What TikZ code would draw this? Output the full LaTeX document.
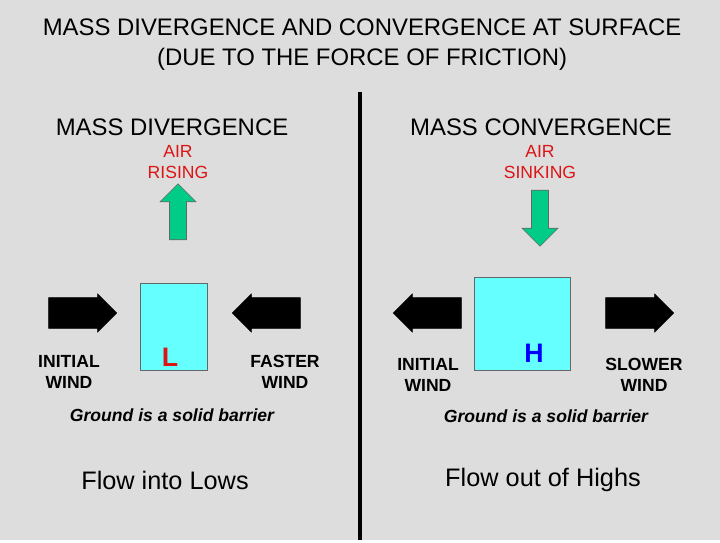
\documentclass[tikz,border=0pt]{standalone}
\usepackage{fontspec}
\setmainfont{Liberation Sans}
\usetikzlibrary{shapes.arrows,positioning}
\definecolor{bggray}{RGB}{221,221,221}
\definecolor{boxcyan}{RGB}{102,255,255}
\definecolor{airgreen}{RGB}{0,204,136}
\definecolor{lowred}{RGB}{220,20,20}
\tikzset{
  heading/.style={font=\fontsize{17}{21.5}\selectfont},
  big/.style={font=\fontsize{18}{21}\selectfont},
  small/.style={font=\fontsize{12.5}{15}\selectfont, align=center},
  label/.style={font=\fontsize{12.5}{15}\selectfont\bfseries, align=center},
  wind/.style={single arrow, draw=black, fill=black, minimum height=1.7cm, minimum width=0.95cm, single arrow head extend=0.05cm, inner sep=0.2cm},
  air/.style={single arrow, draw=black!60, fill=airgreen, minimum height=1.4cm, minimum width=0.9cm, single arrow head extend=0.12cm, inner sep=0.1cm},
  cell/.style={draw=black!60, fill=boxcyan}
}
\begin{document}
\begin{tikzpicture}[x=0.025cm,y=-0.025cm]
  \fill[bggray] (0,0) rectangle (720,540);
  \node[heading, align=center] (title) at (362,45) {MASS DIVERGENCE AND CONVERGENCE AT SURFACE\\(DUE TO THE FORCE OF FRICTION)};
  \coordinate (top) at (360,92);
  \coordinate (bottom) at (360,540);
  \draw[line width=3.5pt] (top) -- (bottom);

  % divergence side
  \node[heading] (divhead) at (172,127) {MASS DIVERGENCE};
  \node[small, text=lowred] (rising) at (178,162) {AIR\\RISING};
  \node[air, rotate=90] (uparrow) at (178,216) {};
  \fill[cell] (140,283) rectangle (207,370);
  \node[font=\fontsize{19}{21}\selectfont\bfseries, text=lowred] (low) at (170,357) {L};
  \node[wind] (winda) at (75,313) {};
  \node[wind, shape border rotate=180] (windb) at (274,313) {};
  \node[label] (initl) at (69,372) {INITIAL\\WIND};
  \node[label] (faster) at (285,372) {FASTER\\WIND};
  \node[label, font=\fontsize{12.5}{15}\selectfont\bfseries\itshape] (groundl) at (172,415) {Ground is a solid barrier};
  \node[big] (lows) at (165,480) {Flow into Lows};

  % convergence side
  \node[heading] (conhead) at (541,127) {MASS CONVERGENCE};
  \node[small, text=lowred] (sinking) at (540,162) {AIR\\SINKING};
  \node[air, rotate=-90] (downarrow) at (540,214) {};
  \fill[cell] (474,277) rectangle (570,370);
  \node[font=\fontsize{19}{21}\selectfont\bfseries, text=blue] (high) at (534,353) {H};
  \node[wind, shape border rotate=180] (windc) at (435,313) {};
  \node[wind] (windd) at (632,313) {};
  \node[label] (initr) at (428,375) {INITIAL\\WIND};
  \node[label] (slower) at (644,375) {SLOWER\\WIND};
  \node[label, font=\fontsize{12.5}{15}\selectfont\bfseries\itshape] (groundr) at (546,416) {Ground is a solid barrier};
  \node[big] (highs) at (543,480) {Flow out of Highs};
\end{tikzpicture}
\end{document}
